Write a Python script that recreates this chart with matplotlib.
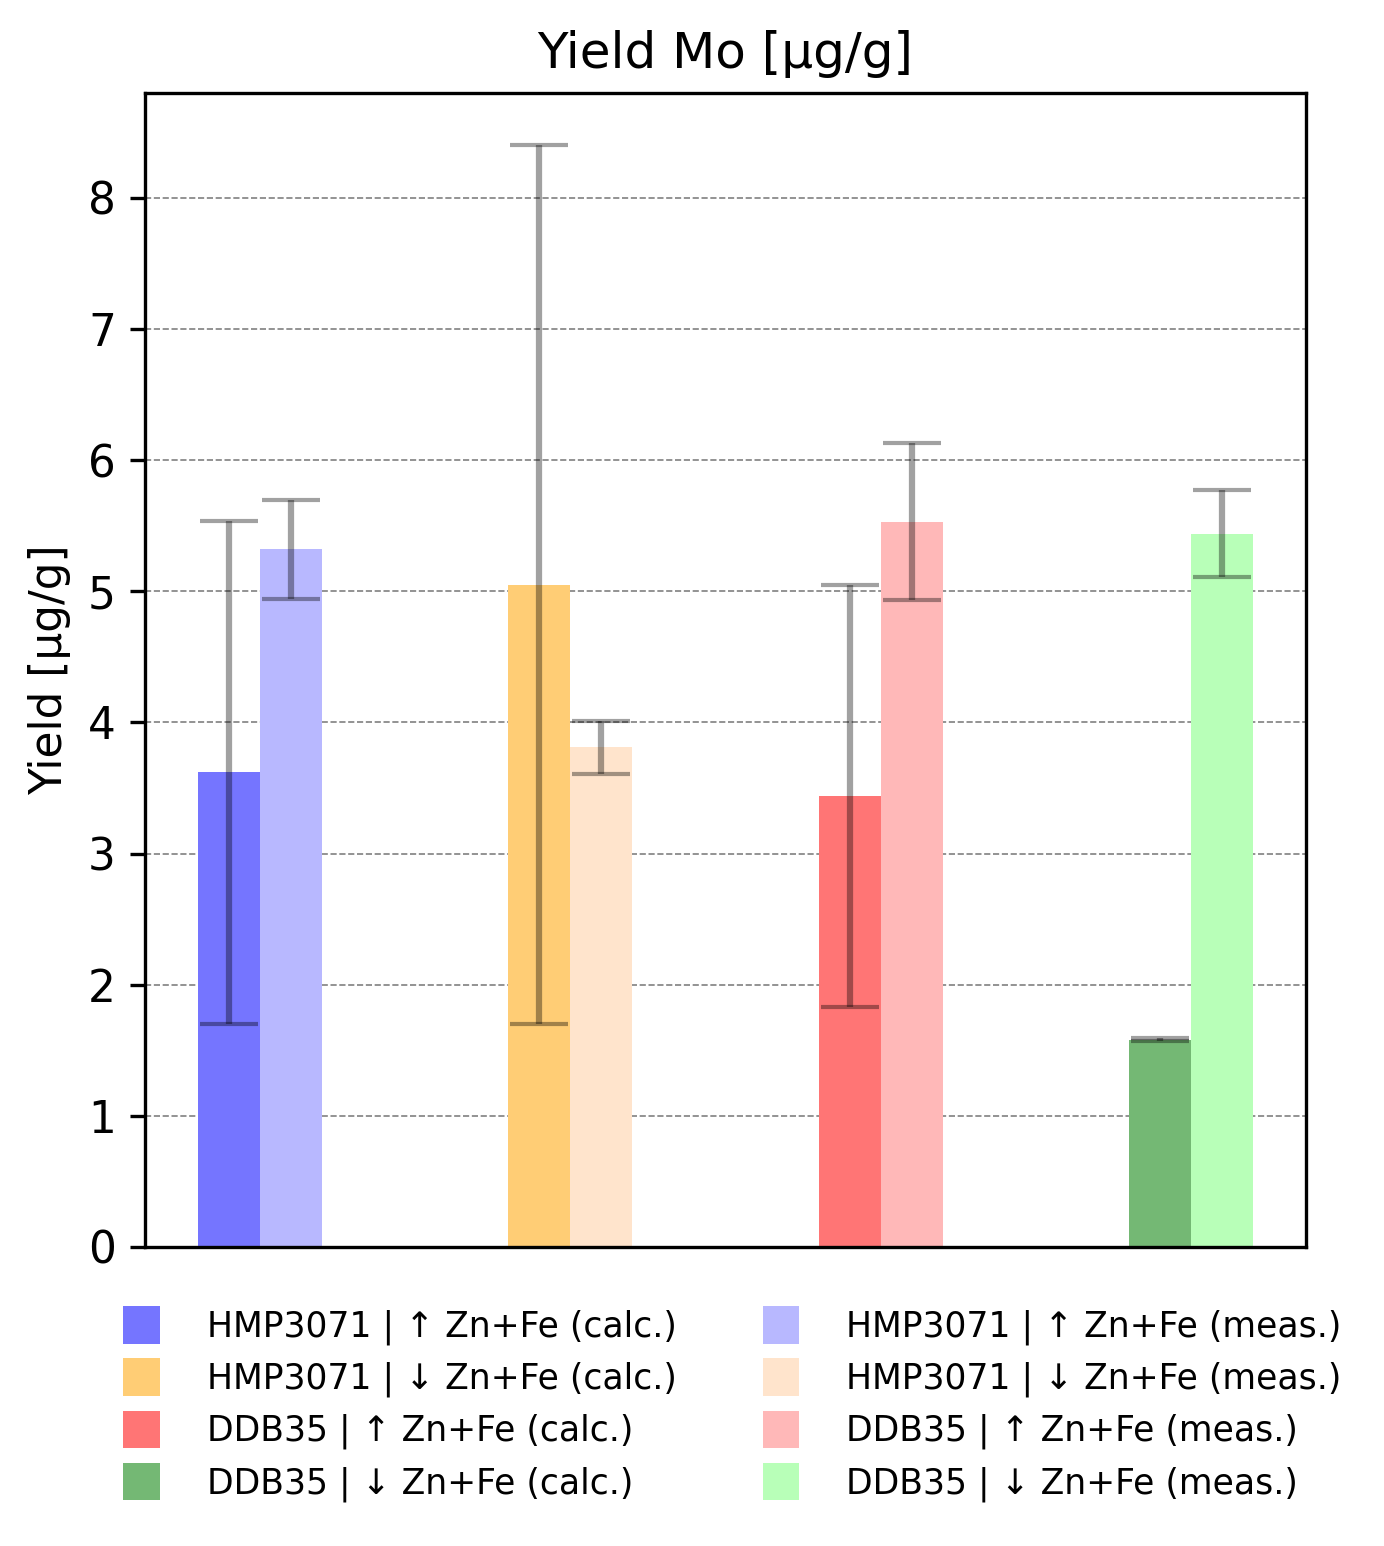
import matplotlib
matplotlib.use("Agg")
import matplotlib.pyplot as plt
import numpy as np

groups = ["HMP3071 | ↑ Zn+Fe", "HMP3071 | ↓ Zn+Fe", "DDB35 | ↑ Zn+Fe", "DDB35 | ↓ Zn+Fe"]
calc_values = [3.62, 5.05, 3.44, 1.58]
calc_errors = [1.92, 3.35, 1.61, 0.01]
meas_values = [5.32, 3.81, 5.53, 5.44]
meas_errors = [0.38, 0.20, 0.60, 0.33]
calc_colors = ["#7575ff", "#ffcd75", "#ff7575", "#74b874"]
meas_colors = ["#b8b8ff", "#ffe4cc", "#ffb8b8", "#b8ffb8"]

fig = plt.figure(figsize=(1385/300, 1546/300), dpi=300)
ax = fig.add_axes([145/1385, 1-1247/1546, (1306-145)/1385, (1247-93)/1546])

x = np.arange(len(groups))
w = 0.2
handles_calc = []
handles_meas = []
for i in range(len(groups)):
    b1 = ax.bar(x[i]-w/2, calc_values[i], w, color=calc_colors[i], label=groups[i] + " (calc.)", zorder=2)
    ax.errorbar(x[i]-w/2, calc_values[i], yerr=calc_errors[i], fmt='none', ecolor='black', alpha=0.37,
                capsize=7, elinewidth=1.5, capthick=1.0, zorder=3)
    b2 = ax.bar(x[i]+w/2, meas_values[i], w, color=meas_colors[i], label=groups[i] + " (meas.)", zorder=2)
    ax.errorbar(x[i]+w/2, meas_values[i], yerr=meas_errors[i], fmt='none', ecolor='black', alpha=0.37,
                capsize=7, elinewidth=1.5, capthick=1.0, zorder=3)
    handles_calc.append(b1)
    handles_meas.append(b2)

ax.set_ylim(0, 8.8)
ax.set_xticks([])
ax.yaxis.grid(True, linestyle='--', linewidth=0.4, color='gray', zorder=0)
ax.set_axisbelow(True)
ax.tick_params(axis='y', labelsize=10.5)
ax.set_ylabel("Yield [µg/g]", fontsize=10.5)
ax.set_title("Yield Mo [µg/g]", fontsize=12)

handles = handles_calc + handles_meas
labels = [h.get_label() for h in handles]
leg = ax.legend(handles, labels, loc='upper center', bbox_to_anchor=(0.506, -0.0245), ncol=2,
                frameon=False, fontsize=8.3, handletextpad=1.36, columnspacing=2.5,
                handlelength=1.05, handleheight=1.3, labelspacing=0.38)

fig.savefig("out.png", dpi=300)
